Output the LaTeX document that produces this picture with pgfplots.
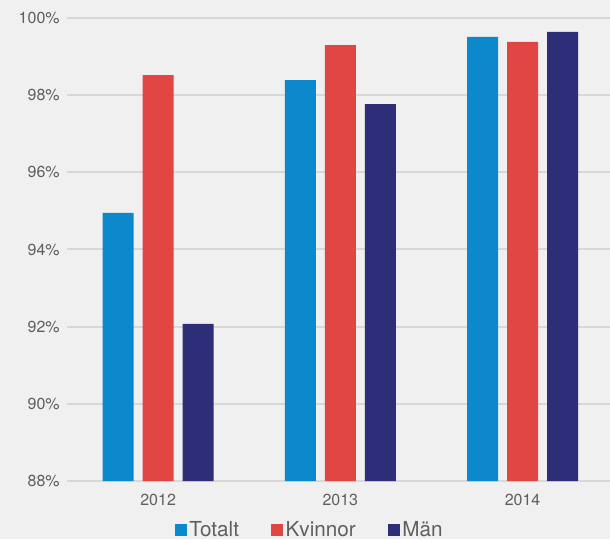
\documentclass[border=0pt]{standalone}
\usepackage{pgfplots}
\pgfplotsset{compat=1.18}
\usepackage{fontspec}
\setmainfont{TeX Gyre Heros}
\definecolor{bg}{RGB}{240,240,240}
\definecolor{gridc}{RGB}{216,216,216}
\definecolor{txt}{RGB}{95,95,95}
\definecolor{cTot}{RGB}{12,136,204}
\definecolor{cKv}{RGB}{225,70,66}
\definecolor{cMa}{RGB}{46,46,120}
\begin{document}
\begin{tikzpicture}
\fill[bg] (0,0) rectangle (457.5pt,404.25pt);
\useasboundingbox (0,0) rectangle (457.5pt,404.25pt);
\begin{axis}[
  at={(50.25pt,43.5pt)}, anchor=south west,
  scale only axis,
  width=407.25pt, height=347.25pt,
  xmin=-0.5, xmax=2.48,
  ymin=88, ymax=100,
  ytick={88,90,...,100},
  yticklabel={\pgfmathprintnumber{\tick}\%},
  xtick={0,1,2},
  xticklabels={2012,2013,2014},
  /pgf/number format/assume math mode=true,
  axis line style={draw=none},
  major tick length=0pt,
  ymajorgrids,
  grid style={gridc, line width=1.5pt},
  tick label style={font=\fontsize{12}{14}\selectfont, text=txt},
  yticklabel style={xshift=-2pt},
  xticklabel style={yshift=-6pt},
  ybar, bar width=23.25pt,
  legend columns=3,
  legend style={at={(0.4475,-0.105)}, anchor=center, draw=none, fill=none,
    font=\fontsize{15.5}{17}\selectfont, text=txt,
    /tikz/every even column/.append style={column sep=22pt}},
  legend image code/.code={\fill[#1] (0pt,-4.5pt) rectangle (9pt,4.5pt);},
  clip=false,
]
\addplot[fill=cTot, draw=none, bar shift=-30pt] coordinates {(0,94.95) (1,98.39) (2,99.51)};
\addplot[fill=cKv, draw=none, bar shift=0pt] coordinates {(0,98.52) (1,99.30) (2,99.38)};
\addplot[fill=cMa, draw=none, bar shift=30pt] coordinates {(0,92.07) (1,97.77) (2,99.64)};
\legend{Totalt,Kvinnor,Män}
\end{axis}
\end{tikzpicture}
\end{document}
